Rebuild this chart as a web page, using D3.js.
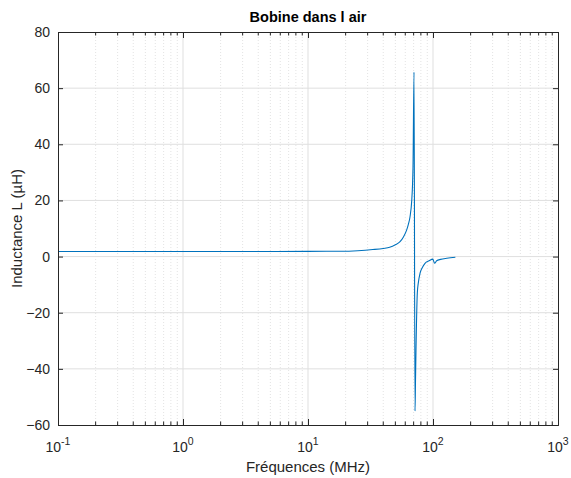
<!DOCTYPE html>
<html>
<head>
<meta charset="utf-8">
<script src="https://cdn.jsdelivr.net/npm/d3@7"></script>
<style>
  body { margin: 0; background: #fff; }
  svg text { font-family: "Liberation Sans", Arial, sans-serif; }
</style>
</head>
<body>
<div id="chart"></div>
<script>
/** values */
let freq = [0.1, 0.3, 1, 3, 10, 18, 25, 33, 40, 45, 50, 54.5, 58, 61.6, 63.5, 65.5, 67.6, 68.5, 69.2, 70.5,
  71.8, 72.4, 73.1, 74.9, 76.5, 78.7, 82, 86.3, 93, 99.5, 103, 107, 115, 129, 151];
let induct = [1.8, 1.8, 1.8, 1.82, 1.85, 1.9, 2.1, 2.5, 2.9, 3.3, 4.2, 5.3, 7, 9.5, 11.5, 14.2, 20, 25, 32, 65.7,
  -55, -45, -33.4, -13, -9, -6, -4, -2.4, -1.5, -0.9, -2.4, -1.5, -1, -0.6, -0.25];

let yTicks = [-60, -40, -20, 0, 20, 40, 60, 80];
let xTicks = [0.1, 1, 10, 100, 1000];
let xExp = ['-1', '0', '1', '2', '3'];

let width = 571, height = 478;
let margin = { left: 58, top: 32, right: 13, bottom: 53 };
let iw = width - margin.left - margin.right;
let ih = height - margin.top - margin.bottom;

let svg = d3.select('#chart')
  .append('svg')
  .attr('width', width)
  .attr('height', height);

let x = d3.scaleLog().domain([0.1, 1000]).range([margin.left, margin.left + iw]);
let y = d3.scaleLinear().domain([-60, 80]).range([margin.top + ih, margin.top]);

// minor positions 2..9 in each decade
let minor = [];
xTicks.slice(0, -1).forEach(d => {
  for (let k = 2; k <= 9; k++) minor.push(d * k);
});

let g = svg.append('g');

// minor grid (dotted)
g.selectAll('.mgrid')
  .data(minor)
  .enter()
  .append('line')
  .attr('x1', d => x(d)).attr('x2', d => x(d))
  .attr('y1', y(-60)).attr('y2', y(80))
  .attr('stroke', '#e3e3e3')
  .attr('stroke-width', 1)
  .attr('stroke-dasharray', '1,2');

// major grid
g.selectAll('.xgrid')
  .data(xTicks.slice(1, -1))
  .enter()
  .append('line')
  .attr('x1', d => x(d)).attr('x2', d => x(d))
  .attr('y1', y(-60)).attr('y2', y(80))
  .attr('stroke', '#dfdfdf');
g.selectAll('.ygrid')
  .data(yTicks.slice(1, -1))
  .enter()
  .append('line')
  .attr('x1', x(0.1)).attr('x2', x(1000))
  .attr('y1', d => y(d)).attr('y2', d => y(d))
  .attr('stroke', '#dfdfdf');

// curve
let line = d3.line()
  .x((d, i) => x(freq[i]))
  .y(d => y(d))
  .curve(d3.curveMonotoneX);
svg.append('path')
  .datum(induct)
  .attr('d', line)
  .attr('fill', 'none')
  .attr('stroke', '#0072BD')
  .attr('stroke-width', 1.1);

// axes with inward ticks
let axisColor = '#262626';
let axBottom = svg.append('g')
  .attr('transform', `translate(0,${y(-60)})`)
  .call(d3.axisBottom(x).tickValues(xTicks).tickSize(-6).tickFormat(''));
axBottom.append('g').selectAll('line')
  .data(minor).enter().append('line')
  .attr('x1', d => x(d)).attr('x2', d => x(d)).attr('y1', 0).attr('y2', -3.5);
let axTop = svg.append('g')
  .attr('transform', `translate(0,${y(80)})`)
  .call(d3.axisTop(x).tickValues(xTicks).tickSize(-6).tickFormat(''));
axTop.append('g').selectAll('line')
  .data(minor).enter().append('line')
  .attr('x1', d => x(d)).attr('x2', d => x(d)).attr('y1', 0).attr('y2', 3.5);
let axLeft = svg.append('g')
  .attr('transform', `translate(${x(0.1)},0)`)
  .call(d3.axisLeft(y).tickValues(yTicks).tickSize(-5).tickPadding(8));
let axRight = svg.append('g')
  .attr('transform', `translate(${x(1000)},0)`)
  .call(d3.axisRight(y).tickValues(yTicks).tickSize(-5).tickFormat(''));

[axBottom, axTop, axLeft, axRight].forEach(a => {
  a.selectAll('path, line').attr('stroke', axisColor);
  a.select('.domain').attr('stroke-width', 1);
});
axLeft.selectAll('text')
  .attr('font-size', 14)
  .attr('fill', axisColor);

// x tick labels 10^n
let xl = svg.append('g').selectAll('text')
  .data(xTicks)
  .enter()
  .append('text')
  .attr('x', d => x(d))
  .attr('y', y(-60) + 27)
  .attr('text-anchor', 'middle')
  .attr('font-size', 14)
  .attr('fill', axisColor);
xl.append('tspan').text('10');
xl.append('tspan')
  .attr('dy', -7)
  .attr('font-size', 10.5)
  .text((d, i) => xExp[i]);

// labels
svg.append('text')
  .attr('x', margin.left + iw / 2)
  .attr('y', 22)
  .attr('text-anchor', 'middle')
  .attr('font-size', 14.5)
  .attr('font-weight', 'bold')
  .attr('fill', '#000')
  .text('Bobine dans l air');

svg.append('text')
  .attr('x', margin.left + iw / 2)
  .attr('y', 472)
  .attr('text-anchor', 'middle')
  .attr('font-size', 15)
  .attr('fill', axisColor)
  .text('Fréquences (MHz)');

svg.append('text')
  .attr('transform', `translate(22,${margin.top + ih / 2}) rotate(-90)`)
  .attr('text-anchor', 'middle')
  .attr('font-size', 15)
  .attr('fill', axisColor)
  .text('Inductance L (µH)');
</script>
</body>
</html>
